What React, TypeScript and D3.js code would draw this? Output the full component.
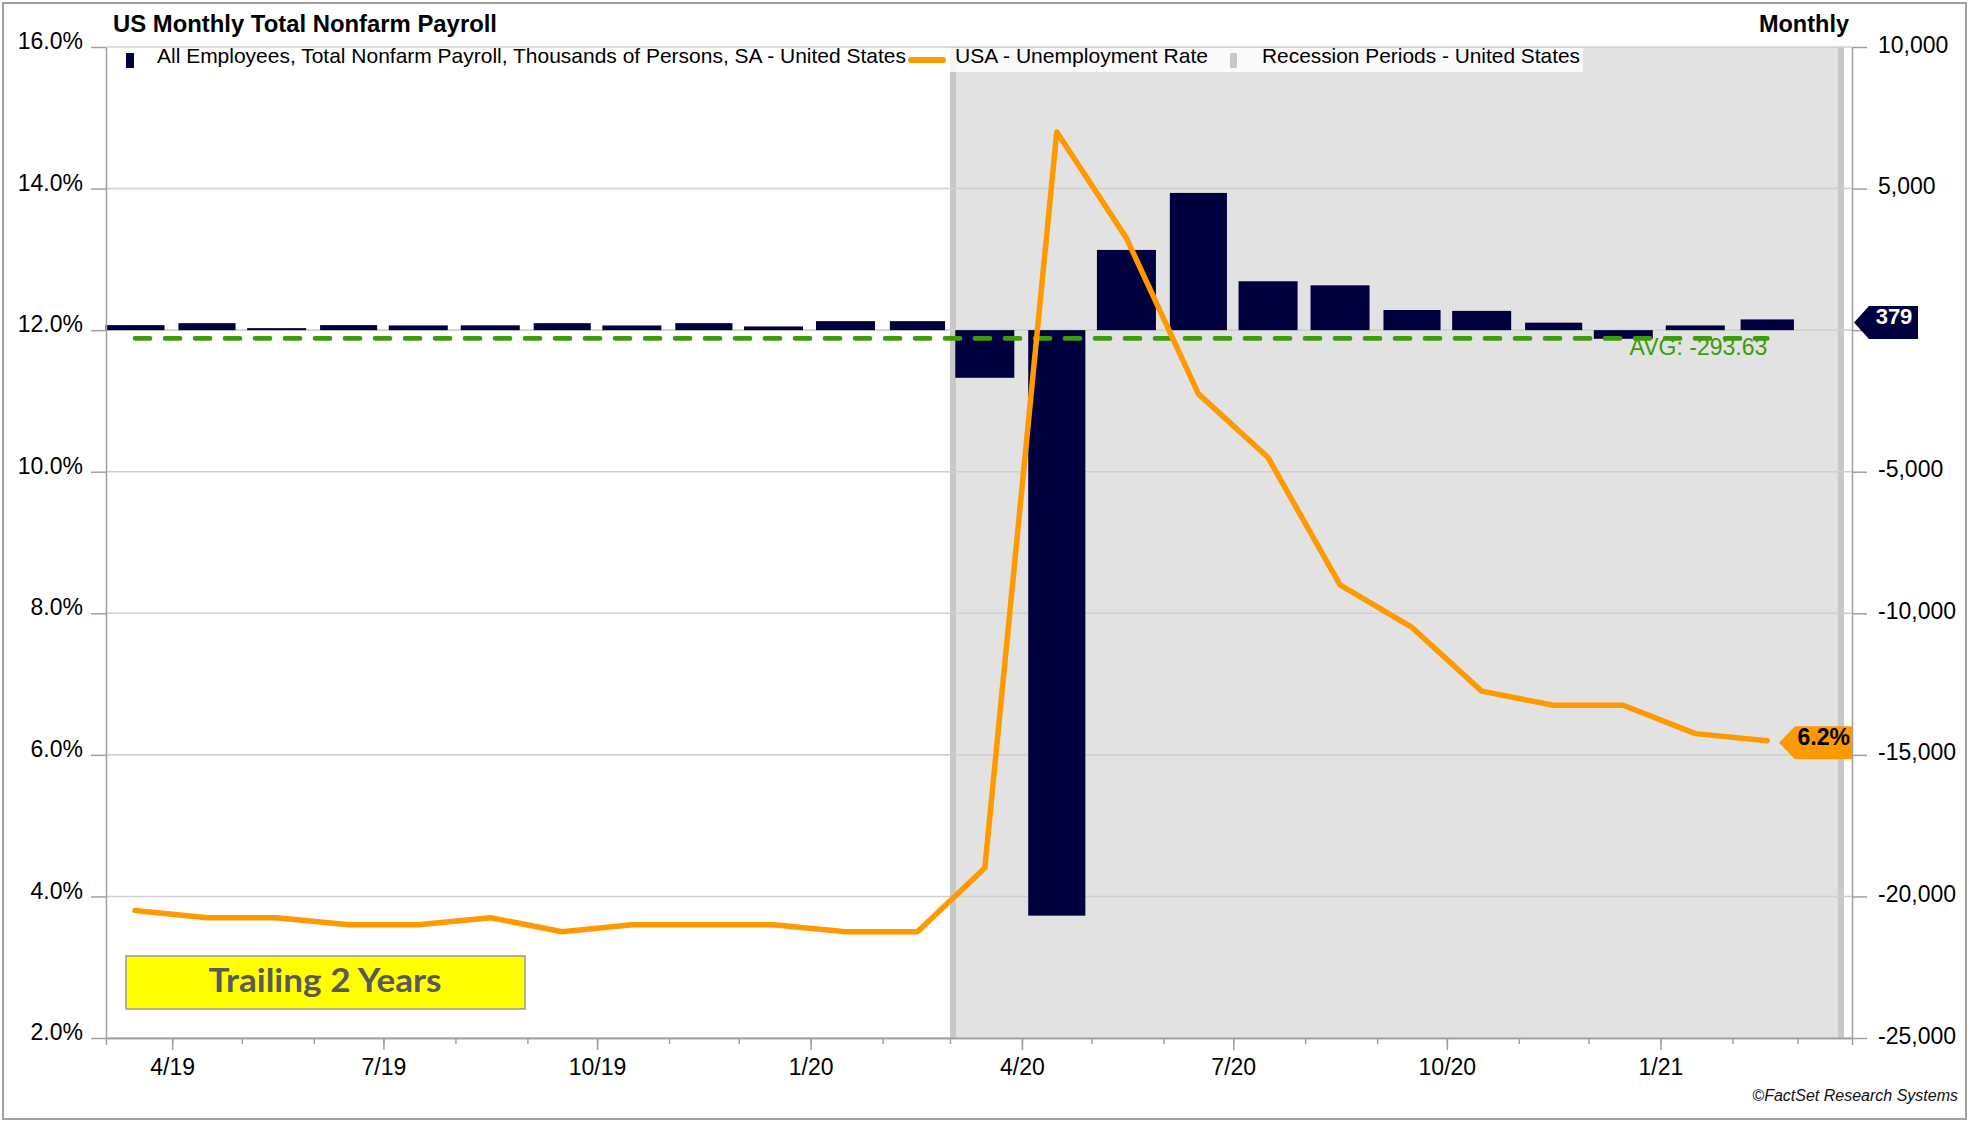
import React, { useRef, useEffect } from 'react';
import * as d3 from 'd3';

// Monthly observations (Mar 2019 - Feb 2021)
const months = [
  '2019-03', '2019-04', '2019-05', '2019-06', '2019-07', '2019-08',
  '2019-09', '2019-10', '2019-11', '2019-12', '2020-01', '2020-02',
  '2020-03', '2020-04', '2020-05', '2020-06', '2020-07', '2020-08',
  '2020-09', '2020-10', '2020-11', '2020-12', '2021-01', '2021-02'
];

// Change in total nonfarm payroll, thousands of persons
const payrollChange = [
  177, 247, 71, 177, 166, 170,
  247, 165, 247, 130, 318, 318,
  -1683, -20679, 2833, 4846, 1726, 1583,
  711, 680, 264, -306, 166, 379
];

// USA unemployment rate, %
const unemploymentRate = [
  3.8, 3.7, 3.7, 3.6, 3.6, 3.7,
  3.5, 3.6, 3.6, 3.6, 3.5, 3.5,
  4.4, 14.8, 13.3, 11.1, 10.2, 8.4,
  7.8, 6.9, 6.7, 6.7, 6.3, 6.2
];

const leftTicks = [2, 4, 6, 8, 10, 12, 14, 16];
const rightTicks = [-25000, -20000, -15000, -10000, -5000, 0, 5000, 10000];
const recessionPeriod = ['2020-03-01', '2021-03-21'];

const legendLabels = [
  'All Employees, Total Nonfarm Payroll, Thousands of Persons, SA - United States',
  'USA - Unemployment Rate',
  'Recession Periods - United States'
];

const NAVY = '#00003f';
const ORANGE = '#ff9900';
const GREEN = '#3c9c0c';
const AXIS = '#a0a0a0';
const GRID = '#d0d0d0';
const FONT = '"Liberation Sans", Arial, Helvetica, sans-serif';

const W = 1969;
const H = 1122;

const App: React.FC = () => {
  const ref = useRef<SVGSVGElement | null>(null);

  useEffect(() => {
    if (!ref.current) return;
    const svg = d3.select(ref.current);
    svg.selectAll('*').remove();

    const left = 106, right = 1852, top = 47, bottom = 1038;

    const parseMonth = d3.timeParse('%Y-%m');
    const parseDay = d3.timeParse('%Y-%m-%d');
    const monthStarts = months.map(m => parseMonth(m) as Date);
    const mid = monthStarts.map(d => d3.timeDay.offset(d, 15));

    const x = d3.scaleTime()
      .domain([new Date(2019, 2, 3, 12), new Date(2021, 2, 24, 12)])
      .range([left, right]);
    const yL = d3.scaleLinear().domain([2, 16]).range([bottom, top]);
    const yR = d3.scaleLinear().domain([-25000, 10000]).range([bottom, top]);

    const fmt = d3.formatLocale({
      decimal: '.', thousands: ',', grouping: [3], currency: ['$', ''], minus: '-'
    }).format(',');

    // Background & frame
    svg.append('rect').attr('width', W).attr('height', H).attr('fill', '#fff');
    svg.append('rect')
      .attr('x', 3).attr('y', 3).attr('width', W - 6).attr('height', H - 6)
      .attr('fill', 'none').attr('stroke', AXIS).attr('stroke-width', 2);

    // Recession shading
    const r0 = x(parseDay(recessionPeriod[0]) as Date);
    const r1 = x(parseDay(recessionPeriod[1]) as Date);
    svg.append('rect')
      .attr('x', r0).attr('y', top).attr('width', r1 - r0).attr('height', bottom - top)
      .attr('fill', '#e2e2e2');
    svg.append('rect')
      .attr('x', r0).attr('y', top).attr('width', 6).attr('height', bottom - top)
      .attr('fill', '#c8c8c8');
    svg.append('rect')
      .attr('x', r1 - 6).attr('y', top).attr('width', 6).attr('height', bottom - top)
      .attr('fill', '#c8c8c8');

    // Gridlines
    svg.append('g')
      .selectAll('line')
      .data(leftTicks)
      .join('line')
      .attr('x1', left).attr('x2', right)
      .attr('y1', d => yL(d)).attr('y2', d => yL(d))
      .attr('stroke', GRID).attr('stroke-width', 1.6);

    // Legend background
    svg.append('rect')
      .attr('x', left + 2).attr('y', top + 1).attr('width', 1583 - left - 2).attr('height', 24)
      .attr('fill', '#fff').attr('opacity', 0.82);

    // Bars
    const data = months.map((m, i) => ({
      start: monthStarts[i], mid: mid[i], value: payrollChange[i], rate: unemploymentRate[i]
    }));
    const barWidth = (d: typeof data[number]) =>
      (x(d3.timeMonth.offset(d.start, 1)) - x(d.start)) * 0.82;
    svg.append('g')
      .selectAll('rect')
      .data(data)
      .join('rect')
      .attr('x', d => x(d.mid) - barWidth(d) / 2)
      .attr('width', d => barWidth(d))
      .attr('y', d => yR(Math.max(0, d.value)))
      .attr('height', d => Math.abs(yR(d.value) - yR(0)))
      .attr('fill', NAVY);

    // Average line
    const avg = d3.mean(payrollChange) as number;
    svg.append('line')
      .attr('x1', x(mid[0])).attr('x2', x(mid[mid.length - 1]))
      .attr('y1', yR(avg)).attr('y2', yR(avg))
      .attr('stroke', GREEN).attr('stroke-width', 4.7)
      .attr('stroke-dasharray', '15 15').attr('stroke-linecap', 'round');
    svg.append('text')
      .attr('x', x(mid[mid.length - 1])).attr('y', yR(avg) + 17)
      .attr('text-anchor', 'end')
      .attr('font-family', FONT).attr('font-size', 23).attr('fill', GREEN)
      .text(`AVG: ${avg.toFixed(2)}`);

    // Unemployment line
    const line = d3.line<typeof data[number]>()
      .x(d => x(d.mid))
      .y(d => yL(d.rate));
    svg.append('path')
      .datum(data)
      .attr('d', line)
      .attr('fill', 'none')
      .attr('stroke', ORANGE).attr('stroke-width', 5.5)
      .attr('stroke-linejoin', 'round').attr('stroke-linecap', 'round');

    // Axes
    const styleAxis = (g: d3.Selection<SVGGElement, unknown, null, undefined>) => {
      g.select('.domain').attr('stroke', AXIS).attr('stroke-width', 1.5);
      g.selectAll('.tick line').attr('stroke', AXIS).attr('stroke-width', 1.5);
      g.selectAll('.tick text').attr('font-family', FONT).attr('font-size', 23).attr('fill', '#000');
    };

    const gl = svg.append('g')
      .attr('transform', `translate(${left},0)`)
      .call(d3.axisLeft(yL).tickValues(leftTicks).tickSize(15).tickSizeOuter(0).tickPadding(8)
        .tickFormat(d => (+d).toFixed(1) + '%'));
    styleAxis(gl);
    gl.selectAll('.tick text').attr('dy', '0.07em');

    // the zero label sits under the latest-value tag, as in the source chart
    const gr = svg.append('g')
      .attr('transform', `translate(${right},0)`)
      .call(d3.axisRight(yR).tickValues(rightTicks).tickSize(15).tickSizeOuter(0).tickPadding(11)
        .tickFormat(d => (+d === 0 ? '' : fmt(+d))));
    styleAxis(gr);
    gr.selectAll('.tick text').attr('dy', '0.22em');

    const gMinor = svg.append('g')
      .attr('transform', `translate(0,${bottom})`)
      .call(d3.axisBottom(x).ticks(d3.timeMonth.every(1)).tickSize(6).tickSizeOuter(0)
        .tickFormat(() => ''));
    styleAxis(gMinor);

    const gb = svg.append('g')
      .attr('transform', `translate(0,${bottom})`)
      .call(d3.axisBottom(x).ticks(d3.timeMonth.every(3)).tickSize(12).tickSizeOuter(7).tickPadding(9)
        .tickFormat(d => d3.timeFormat('%-m/%y')(d as Date)));
    styleAxis(gb);

    // Last value tags
    const lastRate = unemploymentRate[unemploymentRate.length - 1];
    const lastPay = payrollChange[payrollChange.length - 1];
    const ty = yL(lastRate) + 2;
    svg.append('path')
      .attr('d', `M${right - 73},${ty} L${right - 57},${ty - 16.5} L${right},${ty - 16.5} L${right},${ty + 16.5} L${right - 57},${ty + 16.5} Z`)
      .attr('fill', ORANGE);
    svg.append('text')
      .attr('x', right - 2).attr('y', ty + 2)
      .attr('text-anchor', 'end')
      .attr('font-family', FONT).attr('font-size', 23).attr('font-weight', 'bold').attr('fill', '#000')
      .text(`${lastRate.toFixed(1)}%`);

    const py = yR(lastPay) + 3;
    svg.append('path')
      .attr('d', `M${right + 2},${py} L${right + 17},${py - 16.5} L${right + 66},${py - 16.5} L${right + 66},${py + 16.5} L${right + 17},${py + 16.5} Z`)
      .attr('fill', NAVY);
    svg.append('text')
      .attr('x', right + 42).attr('y', py + 2)
      .attr('text-anchor', 'middle')
      .attr('font-family', FONT).attr('font-size', 22).attr('font-weight', 'bold').attr('fill', '#fff')
      .text(fmt(lastPay));

    // Legend
    const lg = svg.append('g').attr('font-family', FONT).attr('font-size', 21).attr('fill', '#000');
    lg.append('rect').attr('x', 126).attr('y', 53).attr('width', 8).attr('height', 15).attr('fill', NAVY);
    lg.append('text').attr('x', 157).attr('y', 63).attr('textLength', 749)
      .attr('lengthAdjust', 'spacingAndGlyphs').text(legendLabels[0]);
    lg.append('line').attr('x1', 911).attr('x2', 943).attr('y1', 60).attr('y2', 60)
      .attr('stroke', ORANGE).attr('stroke-width', 6).attr('stroke-linecap', 'round');
    lg.append('text').attr('x', 955).attr('y', 63).attr('textLength', 253)
      .attr('lengthAdjust', 'spacingAndGlyphs').text(legendLabels[1]);
    lg.append('rect').attr('x', 1230).attr('y', 53).attr('width', 7).attr('height', 15).attr('fill', '#c8c8c8');
    lg.append('text').attr('x', 1262).attr('y', 63).attr('textLength', 318)
      .attr('lengthAdjust', 'spacingAndGlyphs').text(legendLabels[2]);

    // Titles
    svg.append('text')
      .attr('x', 113).attr('y', 32)
      .attr('font-family', FONT).attr('font-size', 23.5).attr('font-weight', 'bold')
      .attr('textLength', 384).attr('lengthAdjust', 'spacingAndGlyphs')
      .text('US Monthly Total Nonfarm Payroll');
    svg.append('text')
      .attr('x', 1849).attr('y', 32).attr('text-anchor', 'end')
      .attr('font-family', FONT).attr('font-size', 23.5).attr('font-weight', 'bold')
      .text('Monthly');

    // Annotation box
    svg.append('rect')
      .attr('x', 126).attr('y', 956).attr('width', 399).attr('height', 53)
      .attr('fill', '#ffff00').attr('stroke', '#999').attr('stroke-width', 1.5);
    svg.append('text')
      .attr('x', 325).attr('y', 992).attr('text-anchor', 'middle')
      .attr('font-family', 'Lato, "Open Sans", sans-serif').attr('font-size', 32).attr('font-weight', 'bold')
      .attr('fill', '#595959')
      .attr('textLength', 233).attr('lengthAdjust', 'spacingAndGlyphs')
      .text('Trailing 2 Years');

    // Source
    svg.append('text')
      .attr('x', 1958).attr('y', 1101).attr('text-anchor', 'end')
      .attr('font-family', FONT).attr('font-size', 16).attr('font-style', 'italic').attr('fill', '#111')
      .text('©FactSet Research Systems');
  }, []);

  return (
    <div style={{ position: 'absolute', left: 0, top: 0 }}>
      <svg ref={ref} width={W} height={H} style={{ display: 'block' }} />
    </div>
  );
};

export default App;
